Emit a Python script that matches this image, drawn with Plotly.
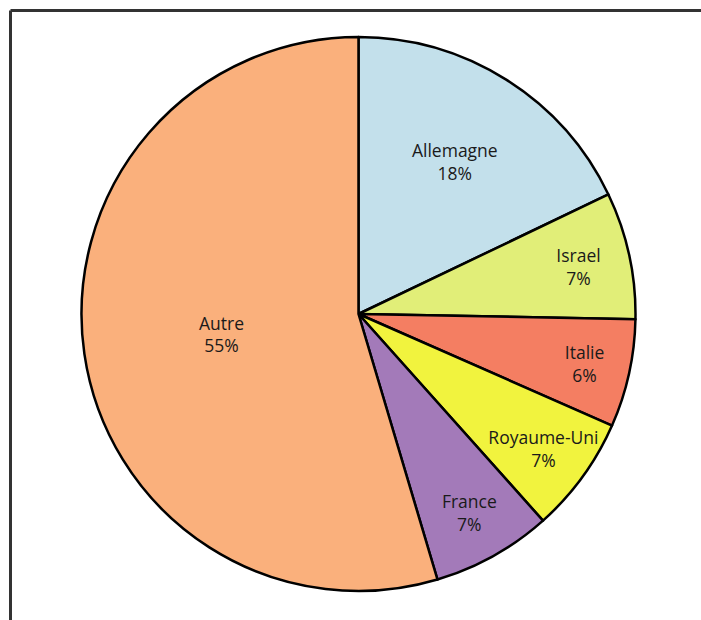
import plotly.graph_objects as go

labels = ["Allemagne", "Israel", "Italie", "Royaume-Uni", "France", "Autre"]
values = [17.9, 7.4, 6.3, 6.8, 7.0, 54.6]
colors = ["#C3E0EB", "#E1EE78", "#F47E62", "#F1F33E", "#A37AB9", "#FAB07C"]

W, H = 701, 620
cx, cy, r = 358.5, 314, 277

fig = go.Figure(go.Pie(
    labels=labels,
    values=values,
    sort=False,
    direction="clockwise",
    rotation=0,
    marker=dict(colors=colors, line=dict(color="black", width=2.5)),
    texttemplate="%{label}<br>%{percent:.0%}",
    textposition="inside",
    insidetextorientation="horizontal",
    textfont=dict(family="Open Sans", size=17.5, color="#1a1a1a"),
    hoverinfo="label+percent",
    domain=dict(x=[(cx - r) / W, (cx + r) / W], y=[1 - (cy + r) / H, 1 - (cy - r) / H]),
    showlegend=False,
))

fig.update_layout(
    width=W, height=H,
    margin=dict(l=0, r=0, t=0, b=0),
    paper_bgcolor="white",
    plot_bgcolor="white",
    uniformtext=dict(minsize=17.5, mode="show"),
    shapes=[
        dict(type="line", xref="paper", yref="paper", x0=10.5 / W, x1=1.01, y0=1 - 10.5 / H, y1=1 - 10.5 / H,
             line=dict(color="#333333", width=3)),
        dict(type="line", xref="paper", yref="paper", x0=10.5 / W, x1=10.5 / W, y0=1 - 10.5 / H, y1=-0.01,
             line=dict(color="#333333", width=3)),
    ],
)

fig.write_html("out.html", config={"displayModeBar": False},
               post_script="document.body.style.margin='0';document.body.style.overflow='hidden';")
